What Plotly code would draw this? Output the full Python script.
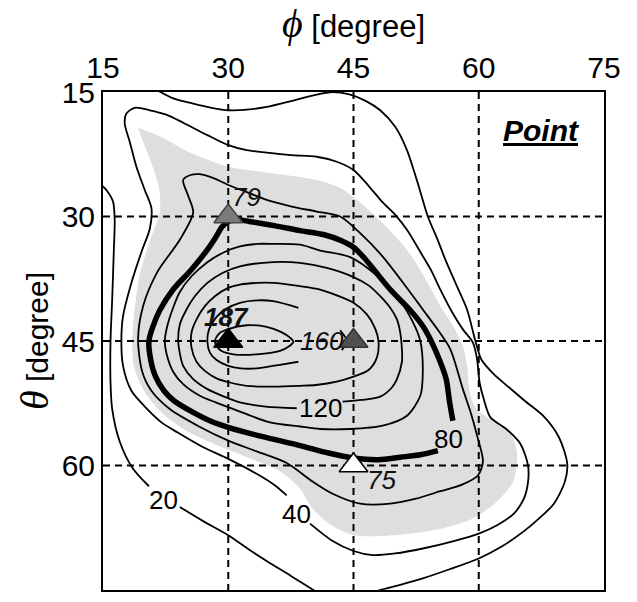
import plotly.graph_objects as go

# ---------------- data ----------------
PHI_TICKS = [15, 30, 45, 60, 75]
THETA_TICKS = [15, 30, 45, 60, 75]
PHI_RANGE = [15, 75]
THETA_RANGE = [15, 75]

# contour paths, (phi, theta) in degrees
C20_A = [(21.5, 14.8), (23.5, 15.8), (25.8, 16.4), (28, 16.9), (30, 17.2), (32.5, 17.1), (34.6, 16.8),
         (37.5, 16.1), (40.2, 15.4), (42.5, 15.0), (44.5, 15.3), (46.5, 16.1), (48.2, 17.2), (50, 19.2),
         (51.4, 22), (52.7, 26), (53.9, 30), (55.0, 32.6), (56.0, 35.2), (57.3, 38.2), (58.6, 41.2),
         (59.6, 45), (60.3, 47.2), (61.8, 49), (63.4, 50.4), (65.5, 52.2), (67.7, 54), (69.6, 56.6),
         (70.6, 59.8), (70.3, 62), (69, 64.6), (67.2, 66.4), (65.3, 68), (62.7, 69.8), (60, 71.2),
         (56.5, 72.5), (53.3, 73.6), (50.5, 74.4), (48.2, 75), (47.5, 75.3)]
C20_B1 = [(14.6, 26.0), (15.4, 26.8), (16.2, 28.2), (16.4, 30.5), (16.3, 34), (16.1, 40), (15.9, 45),
          (15.9, 50), (16.1, 53.2), (17, 57.1), (18.6, 60.4), (20.5, 62.5)]
C20_B2 = [(24.2, 65), (27, 66.7), (30, 68.4), (32.3, 70), (34.6, 71.5), (37.5, 73.3), (40.2, 75), (40.8, 75.4)]

C40 = [(39.8, 67.0), (42.5, 69.1), (45, 70.3), (47.3, 70.8), (50, 70.6), (53.3, 70), (57, 69.1), (60, 68.2),
       (62.2, 67.2), (64.2, 65.8), (65.4, 64), (65.9, 62), (65.9, 60), (65, 57.4), (63.3, 55.6), (61.4, 54.2),
       (60.6, 52), (60.1, 50), (59.8, 47.2), (59.3, 45.2), (58.1, 43.6), (56.8, 41.5), (55.4, 38.8),
       (54.3, 36.5), (53.2, 34.6), (51.4, 31.6), (50, 29.8), (48.5, 28.3), (46.8, 26.3), (45, 24.4),
       (43, 23.4), (40.6, 22.8), (37.5, 22.6), (34.6, 22.3), (32.2, 22), (30, 21.4), (27.5, 20.2),
       (24.6, 18.7), (22.5, 17.7), (20.6, 17.2), (18.8, 16.9), (17.8, 17.6), (17.6, 18.8), (18.2, 21),
       (19.0, 24), (20.0, 26.8), (20.8, 29), (20.6, 31.5), (19.7, 34), (18.4, 38), (17.4, 42), (17.2, 45),
       (17.4, 48), (18.4, 51), (20.3, 53.2), (22.0, 54.8), (23.9, 56), (27, 57.8), (30, 59.2), (33.4, 61),
       (35.6, 62.4), (37.0, 63.6)]

GRAY_REGION = [(19.2, 19.3), (20.5, 19.8), (22.7, 20.8), (24.6, 21.9), (26.6, 22.8), (30, 24), (34.6, 24.7),
               (40.6, 25.6), (43.5, 26.6), (46, 28.5), (48.5, 30.8), (51.4, 34), (53.5, 37.3), (55.4, 40.8),
               (57, 43.3), (58.1, 45.6), (58.6, 48), (58.9, 51), (59.6, 53), (61.5, 54.5), (63.4, 55.6),
               (64.4, 57.5), (64.6, 59.5), (64.1, 62), (62.2, 64.3), (59.3, 66.4), (56, 67.5), (53.3, 68),
               (48.2, 68.5), (45, 68.4), (42.5, 67.3), (40.1, 65.2), (38.6, 62.8), (36.2, 60.7), (33, 59.3),
               (30, 58.1), (27, 56.8), (24.6, 55.6), (21.8, 53.4), (19.8, 50.8), (18.7, 48), (18.5, 45),
               (18.7, 42), (19.4, 37), (20.6, 33), (21.8, 29.5), (21.7, 26.5), (20.6, 23), (19.6, 20.5)]

C60 = [(24.6, 25.6), (25.5, 25.0), (26.6, 24.9), (28.3, 25.4), (30, 26.2), (32.3, 27.1), (34.6, 28),
       (37.6, 28.8), (40.6, 29.4), (43.4, 30.0), (45.8, 32), (48.3, 34.6), (50.8, 37.8), (53.3, 41.2),
       (55.2, 43.8), (56.6, 46), (58.1, 50.8), (59, 53.5), (59.8, 56.4), (60.5, 59.5), (59.9, 61.2),
       (58, 62.3), (55.4, 63.1), (52.5, 64), (49.4, 64.6), (45.8, 64.6), (42.5, 63.4), (40.2, 62),
       (37, 59.7), (33.4, 58.3), (30, 57), (26.5, 55.3), (23, 53.2), (20.8, 51), (19.7, 48.7), (19.2, 44.8),
       (19.8, 40.8), (21.5, 36.7), (24.2, 32.8), (25.8, 29.5), (25.2, 27.5), (24.6, 25.6)]

C80 = [(56.9, 54.6), (56.5, 52.3), (56.1, 49.6), (55.3, 47.3), (54.3, 45), (53.3, 43.2), (51.8, 41.3),
       (49.4, 38.8), (47.6, 36.6), (46.3, 35), (45, 33.7), (43.5, 32.9), (41.5, 32.2), (38.6, 31.7),
       (35.5, 31.1), (32.5, 30.6), (31.2, 30.4), (30.2, 30.5), (29.3, 31.2), (28.5, 32.5), (27.5, 34),
       (25.5, 36.5), (23.4, 38.8), (21.8, 41.3), (21, 43.2), (20.5, 45), (20.7, 47.2), (21.3, 49.3),
       (22.3, 51), (23.5, 52.2), (25.8, 53.6), (28, 54.7), (30, 55.4), (34, 56.5), (38.6, 57.6), (42, 58.5),
       (45, 59.1), (48, 59.3), (50.6, 59), (53, 58.7), (55.1, 58.2)]

C100 = [(38.6, 33.4), (41, 34.1), (44.6, 34.9), (47.9, 37.2), (50.2, 39.6), (52.1, 42.7), (53, 45),
        (53.3, 48.7), (53, 51.6), (51.4, 54), (48.5, 55.2), (44.6, 55.6), (41, 55.6), (38.6, 55.3), (35, 54.8),
        (31.4, 53.5), (28.5, 52.4), (26.6, 51.6), (24.6, 50.2), (23.4, 48.7), (22.6, 46.5), (22.4, 45),
        (22.7, 43.2), (23.4, 41), (24.2, 39.1), (25.6, 37.2), (27.5, 35.5), (29.5, 34.3), (31.4, 33.6),
        (33.5, 33.3), (35.4, 33.3), (38.6, 33.4)]

C120 = [(43.7, 52.3), (46, 52.1), (48.2, 51.7), (49.6, 50.6), (50.2, 49.6), (50.8, 47.5), (50.8, 46),
        (50.6, 44), (50.2, 42.4), (49.4, 41), (48.2, 39.6), (46.8, 38.3), (45, 37.3), (41.8, 36.2), (38.6, 35.6),
        (35.4, 35.5), (31.4, 36), (29.3, 36.8), (27.5, 38), (26, 39.6), (25, 41.2), (24.2, 43), (24, 44.8),
        (24.2, 46.5), (24.6, 48), (25.8, 49.6), (27.5, 50.8), (29.5, 51.7), (31.4, 52.4), (34.5, 52.9),
        (38.2, 53.1)]

C140 = [(38.6, 38.4), (41, 38.8), (43, 39.5), (45, 40.4), (46.6, 41.8), (47.6, 43.5), (48, 45.1), (47.8, 47.0),
        (46.8, 48.5), (45, 49.3), (43, 49.9), (40.5, 50.3), (38.6, 50.4), (35.5, 50.5), (32.2, 50.4), (30.2, 50),
        (28.6, 49.5), (27.2, 48.6), (26.2, 47.5), (25.6, 45.8), (25.6, 44), (26.2, 42.4), (27.2, 40.8),
        (28.4, 39.6), (30, 38.6), (31.4, 38.2), (33.5, 38.0), (35.4, 38.0), (38.6, 38.4)]

C160_MAIN = [(38.4, 47.5), (36, 47.9), (33.4, 48.3), (31.5, 48.3), (30, 48.0), (28.6, 47.3), (27.8, 46.4),
             (27.5, 45.1), (27.7, 43.6), (28.6, 42.1), (29.8, 41.1), (31.4, 40.4), (33.5, 40.1), (35.4, 40.2),
             (38.4, 41.0)]
C160_TIP = [(43.4, 43.7), (44.2, 45), (43.6, 46.1)]

C180 = [(28.4, 45), (28.9, 44.1), (29.9, 43.6), (32.2, 43.1), (34.6, 43.3), (36.3, 43.9), (37.4, 44.6),
        (37.8, 45.1), (37.2, 45.7), (36.2, 46.2), (33.4, 46.6), (30.6, 46.6), (29.2, 46.2), (28.6, 45.6),
        (28.4, 45)]

CONTOURS = [
    (20, [C20_A, C20_B1, C20_B2]),
    (40, [C40]),
    (60, [C60]),
    (80, [C80]),
    (100, [C100]),
    (120, [C120]),
    (140, [C140]),
    (160, [C160_MAIN, C160_TIP]),
    (180, [C180]),
]
THICK_LEVEL = 80

CONTOUR_LABEL_TEXT = ["20", "40", "80", "120"]
CONTOUR_LABEL_PHI = [22.3, 38.2, 56.4, 41.0]
CONTOUR_LABEL_THETA = [64.2, 65.8, 56.8, 53.1]

POINT_PHI = [30, 30, 45, 45]
POINT_THETA = [30, 45, 45, 60]
POINT_VALUE = [79, 187, 160, 75]

PANEL_LABEL = "Point"

# ---------------- styles ----------------
FONT = "Liberation Sans, Arial, sans-serif"
SERIF = "Liberation Serif, Times New Roman, serif"
POINT_FILL = ["#7b7b7b", "#000000", "#505050", "#ffffff"]
POINT_EDGE = ["#444444", "#000000", "#333333", "#000000"]
POINT_LABEL_SHIFT = [(18, 20), (-2, 24), (-32, 0), (28, -14)]
POINT_LABEL_BOLD = [False, True, False, False]

fig = go.Figure()

# gray region
fig.add_trace(go.Scatter(
    x=[p[0] for p in GRAY_REGION], y=[p[1] for p in GRAY_REGION],
    mode="lines", fill="toself", fillcolor="#dedede",
    line=dict(width=0, color="#dedede", shape="spline", smoothing=0.8),
    hoverinfo="skip", showlegend=False))

# dashed grid lines at inner ticks
for v in PHI_TICKS[1:-1]:
    fig.add_trace(go.Scatter(x=[v, v], y=THETA_RANGE, mode="lines",
                             line=dict(color="black", width=2, dash="7px,5px"),
                             hoverinfo="skip", showlegend=False))
for v in THETA_TICKS[1:-1]:
    fig.add_trace(go.Scatter(x=PHI_RANGE, y=[v, v], mode="lines",
                             line=dict(color="black", width=2, dash="7px,5px"),
                             hoverinfo="skip", showlegend=False))

# contour lines
for level, segs in CONTOURS:
    for seg in segs:
        fig.add_trace(go.Scatter(
            x=[p[0] for p in seg], y=[p[1] for p in seg], mode="lines",
            line=dict(color="black", width=5.5 if level == THICK_LEVEL else 1.8,
                      shape="spline", smoothing=0.8),
            name=str(level), hoverinfo="skip", showlegend=False))

# markers
fig.add_trace(go.Scatter(
    x=POINT_PHI, y=POINT_THETA, mode="markers",
    marker=dict(symbol="triangle-up", size=25, color=POINT_FILL,
                line=dict(color=POINT_EDGE, width=1.5)),
    hoverinfo="skip", showlegend=False, cliponaxis=False))

# point value labels
for px_, py_, val, (dx, dy), bold in zip(POINT_PHI, POINT_THETA, POINT_VALUE, POINT_LABEL_SHIFT, POINT_LABEL_BOLD):
    txt = f"<i>{val}</i>"
    if bold:
        txt = f"<b>{txt}</b>"
    fig.add_annotation(x=px_, y=py_, text=txt, showarrow=False, xshift=dx, yshift=dy,
                       xanchor="center", yanchor="middle",
                       font=dict(family=FONT, size=26, color="#111111"))

# contour labels
for t, x, y in zip(CONTOUR_LABEL_TEXT, CONTOUR_LABEL_PHI, CONTOUR_LABEL_THETA):
    fig.add_annotation(x=x, y=y, text=t, showarrow=False, xanchor="center", yanchor="middle",
                       font=dict(family=FONT, size=26, color="black"))

# panel label
fig.add_annotation(xref="paper", yref="paper", x=0.876, y=0.922,
                   xanchor="center", yanchor="middle",
                   text=f"<b><i><u>{PANEL_LABEL}</u></i></b>", showarrow=False,
                   font=dict(family=FONT, size=30, color="black"))

axis_common = dict(showgrid=False, zeroline=False, showline=True, mirror=True,
                   linecolor="black", linewidth=2, ticks="",
                   tickfont=dict(family=FONT, size=30, color="black"))

fig.update_layout(
    width=637, height=602,
    margin=dict(l=103, r=33, t=92, b=10),
    paper_bgcolor="white", plot_bgcolor="white",
    xaxis=dict(side="top", range=PHI_RANGE, tickvals=PHI_TICKS,
               ticktext=[str(v) for v in PHI_TICKS],
               title=dict(text=f'<span style="font-family:{SERIF};font-size:40px"><i>ϕ</i></span> [degree]',
                          font=dict(family=FONT, size=31, color="black"), standoff=4),
               **axis_common),
    yaxis=dict(range=THETA_RANGE[::-1], tickvals=THETA_TICKS,
               ticktext=[str(v) for v in THETA_TICKS],
               title=dict(text=f'<span style="font-family:{SERIF};font-size:40px"><i>θ</i></span> [degree]',
                          font=dict(family=FONT, size=30, color="black"), standoff=4),
               **axis_common),
)

fig.write_html("out.html")
